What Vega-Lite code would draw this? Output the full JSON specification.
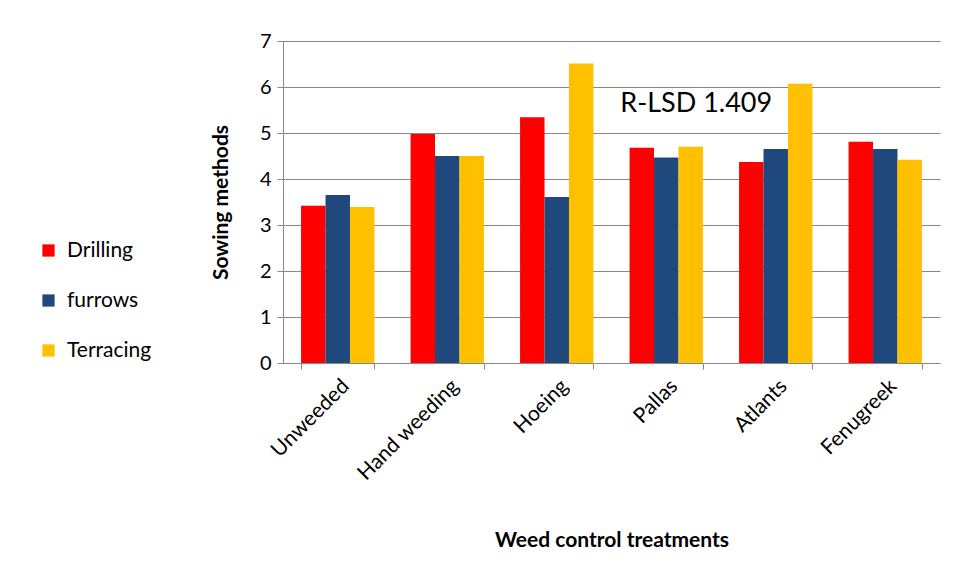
{
  "$schema": "https://vega.github.io/schema/vega-lite/v6.json",
  "width": 657,
  "height": 322,
  "autosize": {"type": "none"},
  "padding": {"left": 283, "top": 41, "right": 17, "bottom": 219},
  "background": "white",
  "config": {
    "view": {"stroke": null},
    "font": "Lato",
    "axis": {"labelFont": "Lato", "titleFont": "Lato", "labelColor": "#000000", "titleColor": "#000000"},
    "legend": {"labelFont": "Lato"}
  },
  "encoding": {
    "x": {
      "field": "treatment",
      "type": "nominal",
      "sort": ["Unweeded", "Hand weeding", "Hoeing", "Pallas", "Atlants", "Fenugreek"],
      "scale": {"paddingInner": 0.33, "paddingOuter": 0.165},
      "axis": {
        "title": "Weed control treatments",
        "titleFontSize": 21,
        "titleFontWeight": "bold",
        "titlePadding": 46,
        "labelFontSize": 21,
        "labelAngle": -45,
        "labelPadding": 6,
        "tickBand": "extent",
        "tickSize": 6,
        "tickColor": "#888888",
        "domainColor": "#888888",
        "grid": false
      }
    },
    "y": {
      "field": "value",
      "type": "quantitative",
      "scale": {"domain": [0, 7], "nice": false},
      "axis": {
        "title": "Sowing methods",
        "titleFontSize": 21,
        "titleFontWeight": "bold",
        "titlePadding": 28,
        "labelFontSize": 20,
        "labelPadding": 6,
        "values": [0, 1, 2, 3, 4, 5, 6, 7],
        "labelOverlap": false,
        "tickSize": 6,
        "tickColor": "#888888",
        "domainColor": "#888888",
        "gridColor": "#888888",
        "gridWidth": 1.2
      }
    }
  },
  "layer": [
    {
      "data": {
        "values": [
          {"treatment": "Unweeded", "method": "Drilling", "value": 3.42},
          {"treatment": "Unweeded", "method": "furrows", "value": 3.65},
          {"treatment": "Unweeded", "method": "Terracing", "value": 3.39},
          {"treatment": "Hand weeding", "method": "Drilling", "value": 4.98},
          {"treatment": "Hand weeding", "method": "furrows", "value": 4.50},
          {"treatment": "Hand weeding", "method": "Terracing", "value": 4.50},
          {"treatment": "Hoeing", "method": "Drilling", "value": 5.34},
          {"treatment": "Hoeing", "method": "furrows", "value": 3.61},
          {"treatment": "Hoeing", "method": "Terracing", "value": 6.51},
          {"treatment": "Pallas", "method": "Drilling", "value": 4.68},
          {"treatment": "Pallas", "method": "furrows", "value": 4.47},
          {"treatment": "Pallas", "method": "Terracing", "value": 4.70},
          {"treatment": "Atlants", "method": "Drilling", "value": 4.37},
          {"treatment": "Atlants", "method": "furrows", "value": 4.65},
          {"treatment": "Atlants", "method": "Terracing", "value": 6.07},
          {"treatment": "Fenugreek", "method": "Drilling", "value": 4.81},
          {"treatment": "Fenugreek", "method": "furrows", "value": 4.65},
          {"treatment": "Fenugreek", "method": "Terracing", "value": 4.42}
        ]
      },
      "mark": {"type": "bar"},
      "encoding": {
        "xOffset": {"field": "method", "type": "nominal", "sort": ["Drilling", "furrows", "Terracing"]},
        "color": {
          "field": "method",
          "type": "nominal",
          "sort": ["Drilling", "furrows", "Terracing"],
          "scale": {"domain": ["Drilling", "furrows", "Terracing"], "range": ["#FF0000", "#1F497D", "#FFC000"]},
          "legend": {
            "title": null,
            "orient": "none",
            "legendX": -245,
            "legendY": 199,
            "symbolType": "square",
            "symbolSize": 150,
            "symbolStrokeWidth": 0,
            "labelFontSize": 21,
            "labelOffset": 8,
            "rowPadding": 28
          }
        }
      }
    },
    {
      "data": {"values": [{"treatment": "Pallas", "value": 5.63, "label": "R-LSD 1.409"}]},
      "mark": {"type": "text", "align": "left", "baseline": "middle", "dx": -46, "fontSize": 27, "font": "Lato", "color": "#000000"},
      "encoding": {
        "text": {"field": "label"}
      }
    }
  ]
}
